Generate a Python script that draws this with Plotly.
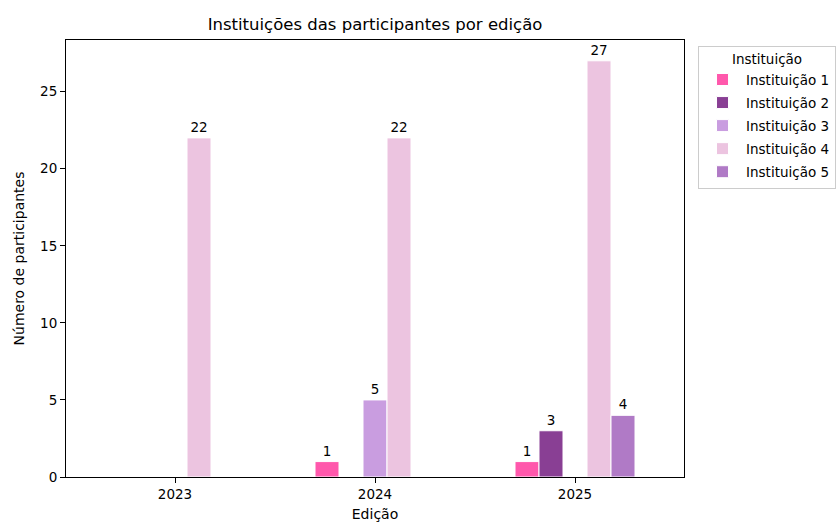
import plotly.graph_objects as go

editions = ["2023", "2024", "2025"]
institutions = ["Instituição 1", "Instituição 2", "Instituição 3", "Instituição 4", "Instituição 5"]
inst1 = [0, 1, 1]
inst2 = [0, 0, 3]
inst3 = [0, 5, 0]
inst4 = [22, 22, 27]
inst5 = [0, 0, 4]
series = [inst1, inst2, inst3, inst4, inst5]
colors = ["#FF58AC", "#893F94", "#C99DE0", "#ECC4E0", "#B07AC6"]

FONT = "DejaVu Sans"
bar_w = 0.12
pos = list(range(len(editions)))

fig = go.Figure()
n = len(institutions)
for k, (name, vals, col) in enumerate(zip(institutions, series, colors)):
    fig.add_trace(go.Bar(
        x=pos,
        y=[v if v > 0 else None for v in vals],
        name=name,
        legendgroup=name,
        width=bar_w,
        offset=(k - (n - 1) / 2) * bar_w - bar_w / 2,
        marker=dict(color=col, line=dict(color="white", width=1)),
        text=[str(v) if v > 0 else "" for v in vals],
        textposition="outside",
        textfont=dict(family=FONT, size=13.5, color="black"),
        cliponaxis=False,
    ))

axis_common = dict(
    showline=True, linecolor="black", linewidth=1.1, mirror=True,
    ticks="outside", ticklen=5, tickwidth=1.1, tickcolor="black",
    showgrid=False, zeroline=False,
    tickfont=dict(family=FONT, size=13.5, color="black"),
)

fig.update_layout(
    width=839, height=523,
    barmode="overlay",
    plot_bgcolor="white", paper_bgcolor="white",
    margin=dict(l=66, r=155, t=40, b=46, autoexpand=False),
    title=dict(text="Instituições das participantes por edição", x=(66 + 684) / 2 / 839,
               xanchor="center", y=1 - 24 / 523, yanchor="middle",
               font=dict(family=FONT, size=16.5, color="black")),
    xaxis=dict(range=[-0.545, 2.545], tickvals=pos, ticktext=editions,
               title=dict(text="Edição", font=dict(family=FONT, size=14, color="black"), standoff=7),
               **axis_common),
    yaxis=dict(range=[0, 28.35], tickvals=[0, 5, 10, 15, 20, 25],
               title=dict(text="Número de participantes", font=dict(family=FONT, size=14, color="black"), standoff=12),
               **axis_common),
    legend=dict(
        title=dict(text="Instituição", side="top center", font=dict(family=FONT, size=13.5, color="black")),
        x=1.0227, xanchor="left", y=0.987, yanchor="top",
        bgcolor="white", bordercolor="#CCCCCC", borderwidth=1,
        font=dict(family=FONT, size=13.5, color="black"),
        tracegroupgap=2.5, traceorder="grouped", itemwidth=37,
    ),
    showlegend=True,
)

fig.write_html("out.html", config={"displayModeBar": False},
               post_script="document.body.style.margin='0px';document.body.style.overflow='hidden';")
